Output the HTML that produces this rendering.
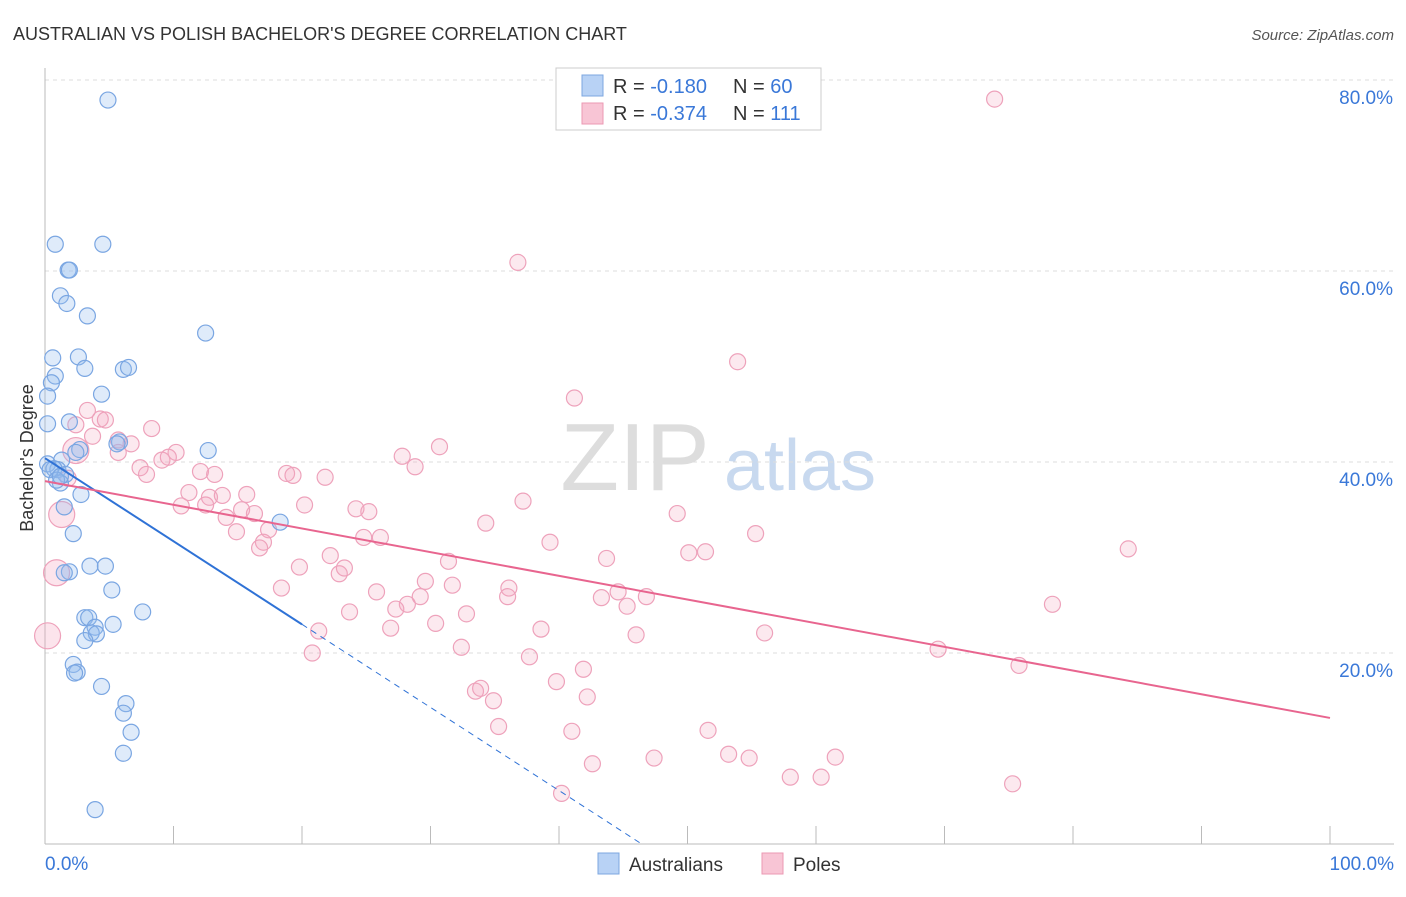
<!DOCTYPE html>
<html><head><meta charset="utf-8"><style>
body{margin:0;background:#fff;font-family:"Liberation Sans",sans-serif;}
svg text{font-family:"Liberation Sans",sans-serif;}
</style></head><body>
<svg id="chart" width="1406" height="892">
<text x="13" y="40" font-size="18" fill="#333">AUSTRALIAN VS POLISH BACHELOR'S DEGREE CORRELATION CHART</text>
<text x="1394" y="40" font-size="15" fill="#555" font-style="italic" text-anchor="end">Source: ZipAtlas.com</text>
<text x="33" y="458" font-size="18" fill="#333" transform="rotate(-90 33 458)" text-anchor="middle">Bachelor's Degree</text>
<g><text x="635" y="490" font-size="96" fill="#ddd" font-family="Liberation Serif" text-anchor="middle">ZIP</text><text x="800" y="490" font-size="72" fill="#c8d9ef" text-anchor="middle">atlas</text></g>
<g id="grid"></g><g id="axes"></g><g id="marks"></g>
<g>
<rect x="556" y="68" width="265" height="62" fill="#fff" stroke="#ccc"/>
<rect x="582" y="75" width="21" height="21" fill="#b8d2f5" stroke="#7da7e0"/>
<rect x="582" y="103" width="21" height="21" fill="#f8c5d5" stroke="#eb99b3"/>
<text x="613" y="93" font-size="20" fill="#333">R = <tspan fill="#3a78d8">-0.180</tspan></text>
<text x="733" y="93" font-size="20" fill="#333">N = <tspan fill="#3a78d8">60</tspan></text>
<text x="613" y="120" font-size="20" fill="#333">R = <tspan fill="#3a78d8">-0.374</tspan></text>
<text x="733" y="120" font-size="20" fill="#333">N = <tspan fill="#3a78d8">111</tspan></text>
</g>
<g>
<rect x="598" y="853" width="21" height="21" fill="#b8d2f5" stroke="#7da7e0"/>
<text x="629" y="871" font-size="19" fill="#333">Australians</text>
<rect x="762" y="853" width="21" height="21" fill="#f8c5d5" stroke="#eb99b3"/>
<text x="793" y="871" font-size="19" fill="#333">Poles</text>
</g>
</svg>
<script>
const yTicks=[20,40,60,80];
const yTickLabels=["20.0%","40.0%","60.0%","80.0%"];
const xEndLabels=["0.0%","100.0%"];
const ausX=[4.9,0.8,4.5,1.8,1.9,1.2,1.7,3.3,12.5,0.6,2.6,3.1,6.1,6.5,0.8,0.5,0.2,4.4,0.2,1.9,2.7,2.4,5.8,5.6,12.7,1.3,0.2,1.0,0.7,1.6,1.2,2.8,1.5,18.3,2.2,1.9,1.5,3.5,4.7,5.2,7.6,3.1,3.4,5.3,3.9,3.6,4.0,3.1,2.2,2.5,2.3,4.4,6.3,6.1,6.7,6.1,3.9,0.4,0.9,1.2];
const ausY=[77.9,62.8,62.8,60.1,60.1,57.4,56.6,55.3,53.5,50.9,51.0,49.8,49.7,49.9,49.0,48.3,46.9,47.1,44.0,44.2,41.3,41.0,42.1,41.9,41.2,40.2,39.8,39.2,39.3,38.7,37.8,36.6,35.3,33.7,32.5,28.5,28.4,29.1,29.1,26.6,24.3,23.7,23.7,23.0,22.7,22.1,22.0,21.3,18.8,18.0,17.9,16.5,14.7,13.7,11.7,9.5,3.6,39.2,38.1,38.5];
const polX=[73.9,36.8,53.9,41.2,30.7,27.8,28.8,3.3,2.4,4.3,4.7,3.7,5.7,6.7,8.3,10.2,9.1,9.6,7.4,7.9,5.7,12.1,13.2,18.8,19.3,21.8,11.2,12.8,13.8,15.7,10.6,12.5,14.1,15.3,16.3,20.2,14.9,17.4,17.0,16.7,19.8,22.2,22.9,23.3,24.2,25.2,24.8,26.1,34.3,37.2,39.3,49.2,50.1,51.4,55.3,43.7,84.3,31.4,29.6,31.7,25.8,29.2,28.2,27.3,26.9,30.4,32.8,36.1,36.0,43.3,44.6,45.3,46.8,46.0,56.0,78.4,38.6,32.4,37.7,41.9,69.5,75.8,20.8,21.3,23.7,33.5,33.9,34.9,39.8,42.2,35.3,41.0,51.6,53.2,54.8,47.4,42.6,61.5,58.0,60.4,75.3,40.2,18.4,1.8];
const polY=[78.0,60.9,50.5,46.7,41.6,40.6,39.5,45.4,43.9,44.5,44.4,42.7,42.3,41.9,43.5,41.0,40.2,40.5,39.4,38.7,41.0,39.0,38.7,38.8,38.6,38.4,36.8,36.3,36.5,36.6,35.4,35.5,34.2,35.0,34.6,35.5,32.7,32.9,31.6,31.0,29.0,30.2,28.3,28.9,35.1,34.8,32.1,32.1,33.6,35.9,31.6,34.6,30.5,30.6,32.5,29.9,30.9,29.6,27.5,27.1,26.4,25.9,25.1,24.6,22.6,23.1,24.1,26.8,25.9,25.8,26.4,24.9,25.9,21.9,22.1,25.1,22.5,20.6,19.6,18.3,20.4,18.7,20.0,22.3,24.3,16.0,16.3,15.0,17.0,15.4,12.3,11.8,11.9,9.4,9.0,9.0,8.4,9.1,7.0,7.0,6.3,5.3,26.8,38.3];
const polBigX=[0.2,0.9,1.3,2.4];
const polBigY=[21.8,28.4,34.5,41.2];
const ausTrend=[40.4,23.0];   // y at x=0 and x=20
const polTrend=[38.0,13.2];   // y at x=0 and x=100

const NS="http://www.w3.org/2000/svg";
const X=v=>45+v*12.85, Y=v=>844-v*9.55;
function mk(tag,attrs,parent){const e=document.createElementNS(NS,tag);for(const k in attrs)e.setAttribute(k,attrs[k]);parent.appendChild(e);return e;}
const grid=document.getElementById('grid'),axes=document.getElementById('axes'),marks=document.getElementById('marks');
yTicks.forEach((t,i)=>{
  const l=mk('line',{x1:45,x2:1394,y1:Y(t),y2:Y(t),stroke:'#ddd','stroke-dasharray':'4,4'},grid);
  
  
  const tx=mk('text',{x:1393,y:Y(t)+24,'font-size':19,fill:'#3a78d8','text-anchor':'end'},axes);
  tx.textContent=yTickLabels[i];
  
  
});
const xa=mk('line',{x1:45,x2:1394,y1:844,y2:844,stroke:'#bbb'},axes);


const ya=mk('line',{x1:45,x2:45,y1:68,y2:844,stroke:'#bbb'},axes);


for(let i=1;i<=10;i++){mk('line',{x1:X(i*10),x2:X(i*10),y1:826,y2:844,stroke:'#bbb'},axes);}
const x0=mk('text',{x:45,y:870,'font-size':19,fill:'#3a78d8'},axes);x0.textContent=xEndLabels[0];


const x1=mk('text',{x:1394,y:870,'font-size':19,fill:'#3a78d8','text-anchor':'end'},axes);x1.textContent=xEndLabels[1];



polBigX.forEach((v,i)=>{const c=mk('circle',{cx:X(v),cy:Y(polBigY[i]),r:13,fill:'rgba(244,167,192,0.3)',stroke:'#eea2bb','stroke-width':1.2},marks);

});
polX.forEach((v,i)=>{const c=mk('circle',{cx:X(v),cy:Y(polY[i]),r:8,fill:'rgba(244,167,192,0.25)',stroke:'#eea2bb','stroke-width':1.2},marks);

});
ausX.forEach((v,i)=>{const c=mk('circle',{cx:X(v),cy:Y(ausY[i]),r:8,fill:'rgba(150,190,240,0.3)',stroke:'#7aa6e2','stroke-width':1.2},marks);

});
const slope=(ausTrend[1]-ausTrend[0])/20;
const bt=mk('line',{x1:X(0),y1:Y(ausTrend[0]),x2:X(20),y2:Y(ausTrend[1]),stroke:'#2f72d6','stroke-width':2},marks);


const xe=-ausTrend[0]/slope;
const bd=mk('line',{x1:X(20),y1:Y(ausTrend[1]),x2:X(xe),y2:Y(0),stroke:'#2f72d6','stroke-width':1,'stroke-dasharray':'6,5'},marks);


const pt=mk('line',{x1:X(0),y1:Y(polTrend[0]),x2:X(100),y2:Y(polTrend[1]),stroke:'#e8658f','stroke-width':2},marks);


</script>
</body></html>
